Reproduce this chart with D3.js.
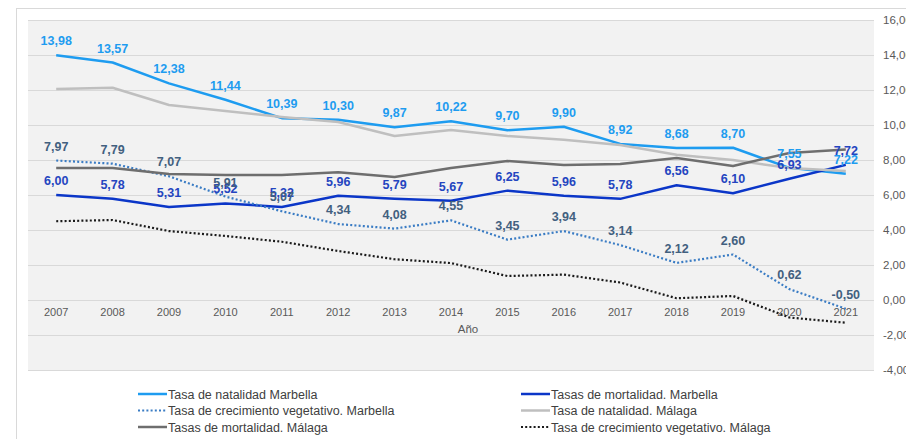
<!DOCTYPE html>
<html>
<head>
<meta charset="utf-8">
<script src="https://cdn.jsdelivr.net/npm/d3@7"></script>
<style>
  body { margin: 0; background: #fff; }
  svg { display: block; font-family: "Liberation Sans", Arial, sans-serif; }
</style>
</head>
<body>
<svg width="906" height="439"></svg>
<script>
var years = ["2007","2008","2009","2010","2011","2012","2013","2014","2015","2016","2017","2018","2019","2020","2021"];

var natalidadMarbella = [13.98, 13.57, 12.38, 11.44, 10.39, 10.30, 9.87, 10.22, 9.70, 9.90, 8.92, 8.68, 8.70, 7.55, 7.22];
var mortalidadMarbella = [6.00, 5.78, 5.31, 5.52, 5.32, 5.96, 5.79, 5.67, 6.25, 5.96, 5.78, 6.56, 6.10, 6.93, 7.72];
var crecimientoMarbella = [7.97, 7.79, 7.07, 5.91, 5.07, 4.34, 4.08, 4.55, 3.45, 3.94, 3.14, 2.12, 2.60, 0.62, -0.50];
var natalidadMalaga = [12.06, 12.13, 11.14, 10.80, 10.46, 10.17, 9.37, 9.71, 9.37, 9.16, 8.86, 8.30, 8.00, 7.54, 7.37];
var mortalidadMalaga = [7.54, 7.54, 7.20, 7.14, 7.14, 7.30, 7.03, 7.54, 7.94, 7.71, 7.77, 8.11, 7.66, 8.40, 8.60];
var crecimientoMalaga = [4.50, 4.57, 3.94, 3.66, 3.33, 2.80, 2.33, 2.11, 1.37, 1.45, 1.00, 0.10, 0.23, -1.00, -1.30];

var yTicks = [16, 14, 12, 10, 8, 6, 4, 2, 0, -2, -4];

var series = [
  {name: "Tasa de natalidad Marbella", values: natalidadMarbella, color: "#1e9cf0", dash: null, width: 2.5, label: "#1e9cf0"},
  {name: "Tasas de mortalidad. Marbella", values: mortalidadMarbella, color: "#0b36c8", dash: null, width: 2.5, label: "#2445c0"},
  {name: "Tasa de crecimiento vegetativo. Marbella", values: crecimientoMarbella, color: "#3a7cc4", dash: "2,2.2", width: 2.2, label: "#42607f"},
  {name: "Tasa de natalidad. Málaga", values: natalidadMalaga, color: "#bfbfbf", dash: null, width: 2.5, label: null},
  {name: "Tasas de mortalidad. Málaga", values: mortalidadMalaga, color: "#6e6e6e", dash: null, width: 2.5, label: null},
  {name: "Tasa de crecimiento vegetativo. Málaga", values: crecimientoMalaga, color: "#1a1a1a", dash: "2,2.2", width: 2.2, label: null}
];

var svg = d3.select("svg");

var plot = {left: 28, right: 874, top: 20, bottom: 370};

var x = d3.scaleBand()
    .domain(years)
    .range([plot.left, plot.right]);

var y = d3.scaleLinear()
    .domain([-4, 16])
    .range([plot.bottom, plot.top]);

var fmt = function(v) { return d3.format(".2f")(v).replace(".", ",").replace("−", "-"); };

// outer frame
svg.append("rect")
    .attr("x", 16.5).attr("y", 8.5)
    .attr("width", 1000).attr("height", 1000)
    .attr("fill", "#fff")
    .attr("stroke", "#d9d9d9");

// plot background
svg.append("rect")
    .attr("x", plot.left).attr("y", plot.top)
    .attr("width", plot.right - plot.left)
    .attr("height", plot.bottom - plot.top)
    .attr("fill", "#f2f2f2");

// gridlines
svg.append("g").selectAll("line")
    .data(yTicks)
    .enter().append("line")
      .attr("x1", plot.left).attr("x2", plot.right)
      .attr("y1", function(d) { return Math.round(y(d)) + 0.5; })
      .attr("y2", function(d) { return Math.round(y(d)) + 0.5; })
      .attr("stroke", "#d9d9d9")
      .attr("stroke-width", 1);

// right axis
var yAxis = svg.append("g")
    .attr("transform", "translate(883,0)")
    .call(d3.axisRight(y).tickValues(yTicks).tickFormat(fmt).tickSize(0).tickPadding(0));
yAxis.select(".domain").remove();
yAxis.selectAll("text")
    .attr("font-family", "Liberation Sans, Arial, sans-serif")
    .attr("font-size", 11.5)
    .attr("fill", "#595959");

// category labels
var xAxis = svg.append("g")
    .attr("transform", "translate(0,305)")
    .call(d3.axisBottom(x).tickSize(0).tickPadding(3));
xAxis.select(".domain").remove();
xAxis.selectAll("text")
    .attr("font-family", "Liberation Sans, Arial, sans-serif")
    .attr("font-size", 11)
    .attr("fill", "#595959");

svg.append("text")
    .attr("x", 468).attr("y", 333)
    .attr("text-anchor", "middle")
    .attr("font-size", 11.5)
    .attr("fill", "#595959")
    .text("Año");

var line = d3.line()
    .x(function(d, i) { return x(years[i]) + x.bandwidth() / 2; })
    .y(function(d) { return y(d); });

series.forEach(function(s) {
  svg.append("path")
      .datum(s.values)
      .attr("d", line)
      .attr("fill", "none")
      .attr("stroke", s.color)
      .attr("stroke-width", s.width)
      .attr("stroke-dasharray", s.dash)
      .attr("stroke-linejoin", "round");
});

// data labels
series.forEach(function(s) {
  if (!s.label) return;
  svg.append("g").selectAll("text")
    .data(s.values)
    .enter().append("text")
      .attr("x", function(d, i) { return x(years[i]) + x.bandwidth() / 2; })
      .attr("y", function(d) { return y(d) - 10; })
      .attr("text-anchor", "middle")
      .attr("font-size", 12.5)
      .attr("font-weight", "bold")
      .attr("fill", s.label)
      .text(fmt);
});

// legend
var legendPos = [[138, 394], [521, 394], [138, 410.5], [521, 410.5], [138, 427], [521, 427]];
var legend = svg.append("g").selectAll("g")
    .data(series)
    .enter().append("g")
      .attr("transform", function(d, i) { return "translate(" + legendPos[i][0] + "," + legendPos[i][1] + ")"; });

legend.append("line")
    .attr("x1", 0).attr("x2", 29)
    .attr("y1", 0).attr("y2", 0)
    .attr("stroke", function(d) { return d.color; })
    .attr("stroke-width", function(d) { return d.width; })
    .attr("stroke-dasharray", function(d) { return d.dash; });

legend.append("text")
    .attr("x", 30).attr("y", 4.5)
    .attr("font-size", 12.5)
    .attr("fill", "#404040")
    .text(function(d) { return d.name; });
</script>
</body>
</html>
